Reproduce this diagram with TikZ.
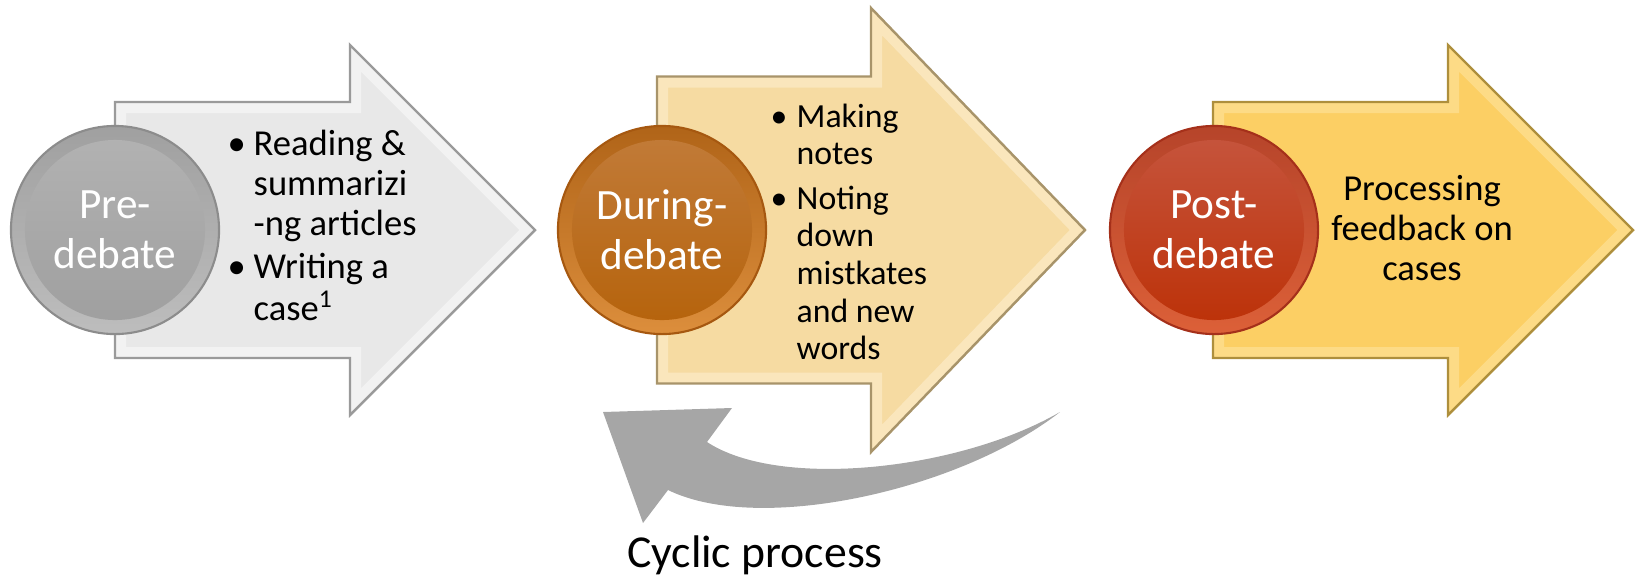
\documentclass[tikz,border=0pt]{standalone}
\usepackage{fontspec}
\setmainfont{Carlito}

% arrow faces, bevels and outlines
\definecolor{greyface}{HTML}{E8E8E8}
\definecolor{greybevel}{HTML}{F2F2F2}
\definecolor{greyedge}{HTML}{9A9A9A}
\definecolor{tanface}{HTML}{F6DBA2}
\definecolor{tanbevel}{HTML}{FAE6BC}
\definecolor{tanedge}{HTML}{A8946A}
\definecolor{goldface}{HTML}{FCCF64}
\definecolor{goldbevel}{HTML}{FDDB86}
\definecolor{goldedge}{HTML}{AE8F3C}
% buttons
\definecolor{btngreyedge}{HTML}{8C8C8C}
\definecolor{btngreyringtop}{HTML}{A0A0A0}
\definecolor{btngreyringbot}{HTML}{BDBDBD}
\definecolor{btngreytop}{HTML}{B3B3B3}
\definecolor{btngreybot}{HTML}{9E9E9E}
\definecolor{btnorangeedge}{HTML}{A65810}
\definecolor{btnorangeringtop}{HTML}{B06418}
\definecolor{btnorangeringbot}{HTML}{DC8E3C}
\definecolor{btnorangetop}{HTML}{C27C3A}
\definecolor{btnorangebot}{HTML}{B5620A}
\definecolor{btnrededge}{HTML}{A5301A}
\definecolor{btnredringtop}{HTML}{B6442A}
\definecolor{btnredringbot}{HTML}{DC6038}
\definecolor{btnredtop}{HTML}{C6563F}
\definecolor{btnredbot}{HTML}{BC3006}
\definecolor{cyclegrey}{HTML}{A6A6A6}

% block arrow: left, body half height, head base, head half height, tip, colour
\newcommand{\stagearrow}[6]{%
  \def\stageoutline{(#1,{230-#2}) -- (#3,{230-#2}) -- (#3,{230-#4}) -- (#5,230)
    -- (#3,{230+#4}) -- (#3,{230+#2}) -- (#1,{230+#2}) -- cycle}%
  \begin{scope}
    \clip \stageoutline;
    \fill[#6face] \stageoutline;
    \draw[#6bevel, line width=0.22cm, line join=miter] \stageoutline;
  \end{scope}
  \draw[#6edge, line width=0.7pt, line join=miter] \stageoutline;
}
\newcommand{\stageitem}{\makebox[0.26cm][l]{\textbullet}}

\begin{document}
\begin{tikzpicture}[x=0.01cm, y=-0.01cm,
  stagebutton/.style={circle, minimum size=2.08cm, inner sep=0pt,
    draw=btn#1edge, line width=0.6pt,
    top color=btn#1ringtop, bottom color=btn#1ringbot,
    text=white, align=center, font=\fontsize{12.3}{14.2}\selectfont,
    path picture={\shade[top color=btn#1top, bottom color=btn#1bot]
      (path picture bounding box.center) circle (0.9cm);}},
  listtext/.style={anchor=base west, inner sep=0pt}]
\useasboundingbox (0,0) rectangle (1639,581);

% the three stages
\stagearrow{115}{128}{350}{185}{535}{grey}
\stagearrow{657}{153.5}{871}{222}{1085}{tan}
\stagearrow{1213}{128}{1448}{185}{1633}{gold}

\node[stagebutton=grey] (pre) at (115,230) {Pre-\\debate};
\node[stagebutton=orange] (during) at (662,230) {During-\\debate};
\node[stagebutton=red] (post) at (1214,230) {Post-\\debate};

\node[listtext, font=\fontsize{10.4}{11.4}\selectfont] (pre-list) at (227,155) {%
  \begin{tabular}[t]{@{}l@{}l@{}}
  \stageitem & Reading \&\\
             & summarizi\\
             & -ng articles\\[1pt]
  \stageitem & Writing a\\
             & case\textsuperscript{1}
  \end{tabular}};
\node[listtext, font=\fontsize{9.6}{10.7}\selectfont] (during-list) at (770,127) {%
  \begin{tabular}[t]{@{}l@{}l@{}}
  \stageitem & Making\\
             & notes\\[2pt]
  \stageitem & Noting\\
             & down\\
             & mistkates\\
             & and new\\
             & words
  \end{tabular}};
\node[anchor=base, inner sep=0pt, font=\fontsize{10.4}{11.4}\selectfont] (post-list) at (1422,200) {%
  \begin{tabular}[t]{@{}c@{}}
  Processing\\
  feedback on\\
  cases
  \end{tabular}};

% curved arrow back to the start
\coordinate (cyc-tail) at (1060,412);
\coordinate (cyc-in) at (707,442);
\coordinate (cyc-barb1) at (732,408);
\coordinate (cyc-tip) at (603,412);
\coordinate (cyc-barb2) at (643,523);
\coordinate (cyc-out) at (668,490);
\fill[cyclegrey] (cyc-tail) .. controls (960,470) and (780,490) .. (cyc-in)
  -- (cyc-barb1) -- (cyc-tip) -- (cyc-barb2) -- (cyc-out)
  .. controls (760,535) and (960,490) .. (cyc-tail) -- cycle;
\node[anchor=base, inner sep=0pt, font=\fontsize{13}{15}\selectfont] (cycle-label) at (755,567) {Cyclic process};
\end{tikzpicture}
\end{document}
